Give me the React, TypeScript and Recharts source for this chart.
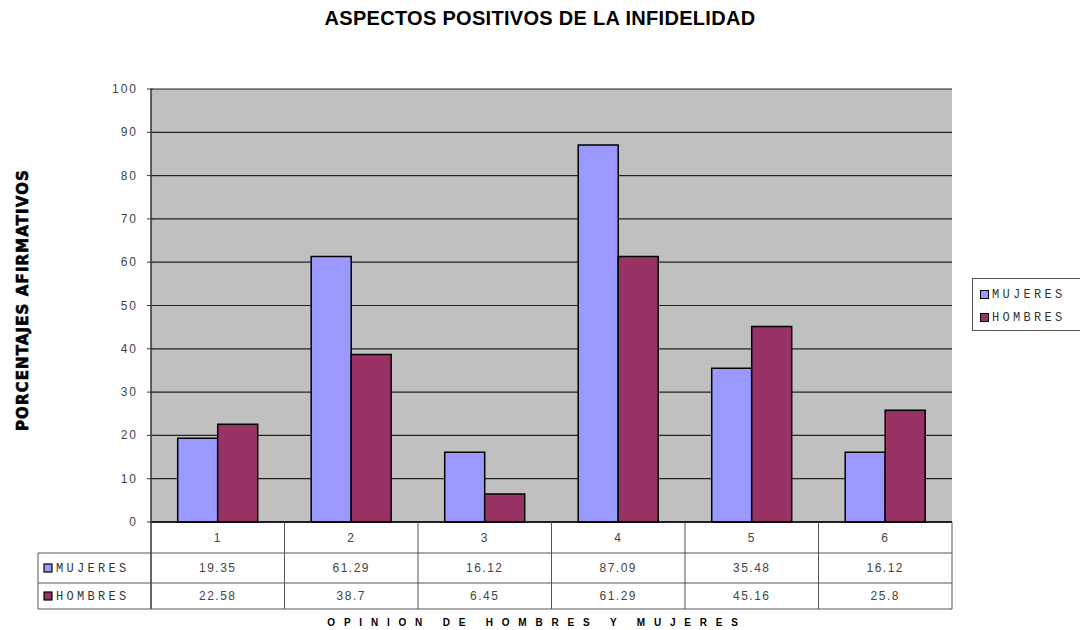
import React from "react";
import {
  BarChart,
  Bar,
  XAxis,
  YAxis,
  CartesianGrid,
  Legend,
  Label,
} from "recharts";

// Categories and series values
const CATEGORIES = ["1", "2", "3", "4", "5", "6"];
const MUJERES = [19.35, 61.29, 16.12, 87.09, 35.48, 16.12];
const HOMBRES = [22.58, 38.7, 6.45, 61.29, 45.16, 25.8];
const Y_TICKS = [0, 10, 20, 30, 40, 50, 60, 70, 80, 90, 100];

const SERIES = [
  { key: "mujeres", name: "MUJERES", color: "#9999FF", values: MUJERES },
  { key: "hombres", name: "HOMBRES", color: "#993366", values: HOMBRES },
];

const data = CATEGORIES.map((c, i) => ({
  cat: c,
  mujeres: MUJERES[i],
  hombres: HOMBRES[i],
}));

const W = 1080;
const H = 630;
// row boundaries of the data table, measured down from the category axis
const ROWS = [0, 31, 61, 87];
const HEAD_W = 113;
const LINE = "#555";
const NUM_FONT = "'Liberation Sans', Arial, sans-serif";
const MONO_FONT = "'Liberation Mono', 'Courier New', monospace";

const rowMid = (r: number) => (ROWS[r] + ROWS[r + 1]) / 2;

// Category tick drawn as a column of the data table under the plot
const TableTick = (props: any) => {
  const { x, y, index, payload, width } = props;
  const w = (width || 801) / CATEGORIES.length;
  const left = x - w / 2;
  const right = x + w / 2;
  const y0 = y;
  const bottom = y0 + ROWS[3];
  const cells: React.ReactNode[] = [];
  if (index === 0) {
    cells.push(
      <line key="l0" x1={left} x2={left} y1={y0} y2={bottom} stroke="#333" strokeWidth={1.5} />,
      <line key="hl" x1={left - HEAD_W} x2={left - HEAD_W} y1={y0 + ROWS[1]} y2={bottom} stroke={LINE} />
    );
    [1, 2, 3].forEach((r) =>
      cells.push(
        <line key={"ht" + r} x1={left - HEAD_W} x2={left} y1={y0 + ROWS[r]} y2={y0 + ROWS[r]} stroke={LINE} />
      )
    );
    SERIES.forEach((s, si) => {
      const cy = y0 + rowMid(si + 1);
      cells.push(
        <rect key={"hk" + si} x={left - HEAD_W + 6} y={cy - 4} width={8} height={8} fill={s.color} stroke="#000" strokeWidth={1.2} />,
        <text key={"hn" + si} x={left - HEAD_W + 18} y={cy + 4} fontSize={12} fontFamily={MONO_FONT} fill="#333" letterSpacing={3.3}>
          {s.name}
        </text>
      );
    });
  }
  cells.push(<line key="r" x1={right} x2={right} y1={y0} y2={bottom} stroke={LINE} />);
  [1, 2, 3].forEach((r) =>
    cells.push(<line key={"h" + r} x1={left} x2={right} y1={y0 + ROWS[r]} y2={y0 + ROWS[r]} stroke={LINE} />)
  );
  cells.push(
    <text key="c" x={x} y={y0 + rowMid(0) + 4} textAnchor="middle" fontSize={12} fontFamily={NUM_FONT} fill="#444" letterSpacing={1.5}>
      {payload.value}
    </text>
  );
  SERIES.forEach((s, si) => {
    cells.push(
      <text key={"v" + si} x={x} y={y0 + rowMid(si + 1) + 4} textAnchor="middle" fontSize={12} fontFamily={NUM_FONT} fill="#444" letterSpacing={1.5}>
        {String(s.values[index])}
      </text>
    );
  });
  return <g>{cells}</g>;
};

const YTick = (props: any) => {
  const { x, y, payload } = props;
  return (
    <g>
      <line x1={x + 4} x2={x + 10} y1={y} y2={y} stroke="#333" />
      <text x={x - 5} y={y + 4} textAnchor="end" fontSize={12} fontFamily={NUM_FONT} fill="#444" letterSpacing={2}>
        {payload.value}
      </text>
    </g>
  );
};

const LegendBox = () => (
  <div
    style={{
      border: "1px solid #555",
      borderRight: "none",
      width: 108,
      height: 53,
      boxSizing: "border-box",
      padding: "4px 0 0 7px",
      background: "#fff",
      textAlign: "left",
    }}
  >
    {SERIES.map((s) => (
      <div key={s.key} style={{ display: "flex", alignItems: "center", height: 23 }}>
        <span
          style={{
            display: "inline-block",
            width: 7,
            height: 7,
            background: s.color,
            border: "1.5px solid #000",
            marginRight: 3,
          }}
        />
        <span style={{ fontFamily: MONO_FONT, fontSize: 12, color: "#333", letterSpacing: 3.3, whiteSpace: "nowrap" }}>{s.name}</span>
      </div>
    ))}
  </div>
);

export default function App() {
  return (
    <div style={{ position: "absolute", left: 0, top: 0, width: W, height: H, background: "#fff", overflow: "hidden" }}>
      <div
        style={{
          position: "absolute",
          top: 6,
          left: 0,
          width: W,
          textAlign: "center",
          fontFamily: NUM_FONT,
          fontWeight: "bold",
          fontSize: 20,
          lineHeight: "24px",
          letterSpacing: 0.3,
          color: "#000",
        }}
      >
        ASPECTOS POSITIVOS DE LA INFIDELIDAD
      </div>
      <BarChart
        width={W}
        height={H}
        data={data}
        margin={{ top: 89, right: 128, bottom: 21, left: 111 }}
        barCategoryGap="20%"
        barGap={0}
      >
        <CartesianGrid vertical={false} fill="#C0C0C0" stroke="#222" strokeWidth={1.2} />
        <XAxis
          dataKey="cat"
          height={87}
          tickLine={false}
          tickSize={0}
          tickMargin={0}
          axisLine={{ stroke: "#000", strokeWidth: 1.5 }}
          tick={<TableTick />}
          interval={0}
        >
          <Label
            content={() => (
              <text x={537} y={626} textAnchor="middle" fontSize={10} fontWeight="bold" fontFamily={NUM_FONT} fill="#000" letterSpacing={8.8}>
                OPINION DE HOMBRES Y MUJERES
              </text>
            )}
          />
        </XAxis>
        <YAxis
          width={40}
          domain={[0, 100]}
          ticks={Y_TICKS}
          tickLine={false}
          tick={<YTick />}
          axisLine={{ stroke: "#333", strokeWidth: 1.5 }}
        >
          <Label
            content={() => (
              <text
                x={0}
                y={0}
                transform="translate(28,300) rotate(-90)"
                textAnchor="middle"
                fontSize={15}
                fontWeight={900}
                fontFamily="'DejaVu Sans', sans-serif"
                fill="#000"
                stroke="#000"
                strokeWidth={0.6}
                letterSpacing={1.1}
              >
                PORCENTAJES AFIRMATIVOS
              </text>
            )}
          />
        </YAxis>
        <YAxis
          yAxisId="frame"
          orientation="right"
          width={0}
          domain={[0, 100]}
          tick={false}
          tickLine={false}
          axisLine={{ stroke: "#888", strokeWidth: 1.5 }}
        />
        <XAxis xAxisId="frame" orientation="top" dataKey="cat" height={0} tick={false} tickLine={false} axisLine={{ stroke: "#888", strokeWidth: 1.5 }} />
        <Legend
          layout="horizontal"
          verticalAlign="middle"
          align="center"
          content={<LegendBox />}
          wrapperStyle={{ left: 972, top: 278, width: 108 }}
        />
        {SERIES.map((s) => (
          <Bar
            key={s.key}
            dataKey={s.key}
            name={s.name}
            fill={s.color}
            stroke="#000"
            strokeWidth={1.5}
            isAnimationActive={false}
          />
        ))}
      </BarChart>
    </div>
  );
}
